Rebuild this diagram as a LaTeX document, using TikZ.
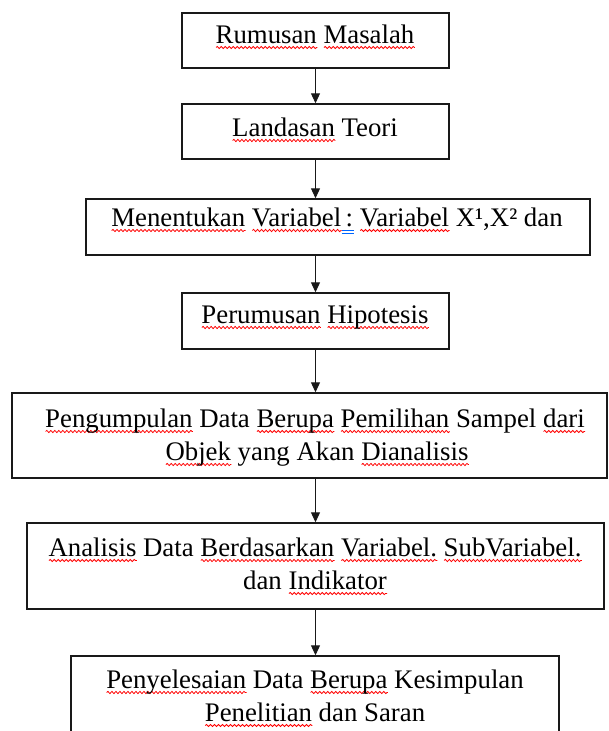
\documentclass[tikz,border=0pt]{standalone}
\usepackage{fontspec}
\setmainfont{Liberation Serif}
\usetikzlibrary{arrows.meta,decorations.pathmorphing}
\newsavebox\sqbox
\newcommand\sq[1]{\sbox\sqbox{#1}\rlap{\raisebox{-4.5pt}{\tikz[baseline=0pt]{\draw[red,line width=0.8pt,decorate,decoration={snake,amplitude=1.1pt,segment length=4pt}] (0pt,0pt) -- (\wd\sqbox,0pt);}}}\usebox\sqbox}
\newcommand\dbl[1]{\sbox\sqbox{#1}\rlap{\raisebox{-7pt}{\tikz[baseline=0pt]{\draw[blue!60!cyan,line width=0.8pt] (0pt,0pt) -- (\wd\sqbox,0pt) (0pt,2.5pt) -- (\wd\sqbox,2.5pt);}}}\usebox\sqbox}
\begin{document}
\begin{tikzpicture}[x=1pt,y=-1pt,
  box/.style={draw=black!90,line width=1.4pt,inner sep=0pt,rectangle},
  txt/.style={anchor=base,inner sep=0pt,font=\fontsize{26.8}{33}\selectfont,text=black},
  arr/.style={draw=black!90,line width=1pt,-{Triangle[width=9pt,length=10pt]}}]
\clip (0,0) rectangle (608,731);
\node[box,minimum width=267pt,minimum height=55pt] (b1) at (315.5,40.5) {};
\node[box,minimum width=267pt,minimum height=55pt] (b2) at (315.5,131.5) {};
\node[box,minimum width=504pt,minimum height=56pt] (b3) at (338,227) {};
\node[box,minimum width=267pt,minimum height=56pt] (b4) at (315.5,321) {};
\node[box,minimum width=595pt,minimum height=85pt] (b5) at (309.5,435.5) {};
\node[box,minimum width=577pt,minimum height=86pt] (b6) at (315.5,566) {};
\node[box,minimum width=488pt,minimum height=104pt] (b7) at (315,708) {};

\node[txt] (t1) at (315,43) {\sq{Rumusan} \sq{Masalah}};
\node[txt] (t2) at (315,136) {\sq{Landasan} Teori};
\node[txt] (t3) at (337,226) {\sq{Menentukan} \sq{Variabel}\dbl{\,:} \sq{Variabel} X¹,X² dan};
\node[txt] (t4) at (315,323) {\sq{Perumusan} \sq{Hipotesis}};
\node[txt] (t5a) at (315,427) {\sq{Pengumpulan} Data \sq{Berupa} \sq{Pemilihan} Sampel \sq{dari}};
\node[txt] (t5b) at (317,460) {\sq{Objek} yang Akan \sq{Dianalisis}};
\node[txt] (t6a) at (315,556) {\sq{Analisis} Data \sq{Berdasarkan} \sq{Variabel.} \sq{SubVariabel.}};
\node[txt] (t6b) at (315,589) {dan \sq{Indikator}};
\node[txt] (t7a) at (315,688) {\sq{Penyelesaian} Data \sq{Berupa} Kesimpulan};
\node[txt] (t7b) at (315,721) {\sq{Penelitian} dan Saran};

\draw[arr] (b1.south) -- (b2.north);
\draw[arr] (b2.south) -- (b2.south |- b3.north);
\draw[arr] (b2.south |- b3.south) -- (b4.north);
\draw[arr] (b4.south) -- (b4.south |- b5.north);
\draw[arr] (b4.south |- b5.south) -- (b4.south |- b6.north);
\draw[arr] (b4.south |- b6.south) -- (b4.south |- b7.north);
\end{tikzpicture}
\end{document}
